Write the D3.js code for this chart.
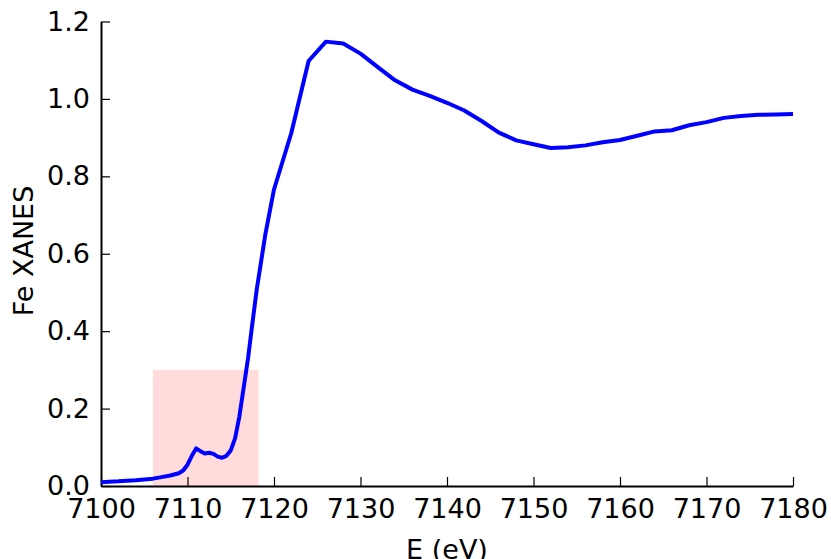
<!DOCTYPE html>
<html><head><meta charset="utf-8">
<script src="https://cdn.jsdelivr.net/npm/d3@7"></script>
<style>body{margin:0;background:#fff}svg{display:block}text{font-family:"DejaVu Sans",sans-serif}</style>
</head><body>
<svg id="c" width="831" height="559"></svg>
<script>
const energy = [7100,7102,7104,7106,7107,7108,7109,7109.5,7110,7110.5,7111,7111.5,7112,7112.5,7113,7113.5,7114,7114.5,7115,7115.5,7116,7116.5,7117,7117.5,7118,7119,7120,7122,7124,7126,7128,7130,7132,7134,7136,7138,7140,7142,7144,7146,7148,7150,7152,7154,7156,7158,7160,7162,7164,7166,7168,7170,7172,7174,7176,7178,7180];
const xanes = [0.010,0.012,0.015,0.019,0.023,0.027,0.033,0.040,0.055,0.078,0.097,0.090,0.084,0.086,0.083,0.076,0.073,0.078,0.092,0.123,0.180,0.255,0.330,0.420,0.507,0.650,0.766,0.912,1.098,1.148,1.143,1.117,1.082,1.048,1.024,1.008,0.990,0.970,0.943,0.913,0.893,0.883,0.873,0.875,0.880,0.888,0.894,0.905,0.916,0.919,0.932,0.940,0.951,0.956,0.959,0.960,0.961];
const xTicks = [7100,7110,7120,7130,7140,7150,7160,7170,7180];
const yTicks = [0.0,0.2,0.4,0.6,0.8,1.0,1.2];
const region = {x0:7106, x1:7118.2, y0:0, y1:0.3};

const svg = d3.select("#c");
const x = d3.scaleLinear().domain([7100,7180]).range([101,793]);
const y = d3.scaleLinear().domain([0,1.2]).range([486,21.5]);

svg.append("rect")
  .attr("x", x(region.x0)).attr("y", y(region.y1))
  .attr("width", x(region.x1)-x(region.x0)).attr("height", y(region.y0)-y(region.y1))
  .attr("fill","rgb(255,0,0)").attr("fill-opacity",0.14);

const xAxis = d3.axisBottom(x).tickValues(xTicks).tickSizeInner(-9).tickSizeOuter(0).tickPadding(13).tickFormat(d3.format("d"));
const gx = svg.append("g").attr("transform",`translate(0,${y(0)})`).call(xAxis);
const yAxis = d3.axisLeft(y).tickValues(yTicks).tickSizeInner(-9).tickSizeOuter(0).tickPadding(11).tickFormat(d3.format(".1f"));
const gy = svg.append("g").attr("transform",`translate(${x(7100)},0)`).call(yAxis);
[gx,gy].forEach(g=>{
  g.select(".domain").attr("stroke","#000").attr("stroke-width",2);
  g.selectAll(".tick line").attr("stroke","#000").attr("stroke-width",1.2);
  g.selectAll(".tick text").attr("font-size",27).attr("fill","#000").attr("font-family","DejaVu Sans");
});
gx.selectAll(".tick text").attr("dy","0.71em");

svg.append("path")
  .datum(energy.map((e,i)=>[e,xanes[i]]))
  .attr("fill","none").attr("stroke","#0000ff").attr("stroke-width",4)
  .attr("stroke-linejoin","round")
  .attr("d", d3.line().x(d=>x(d[0])).y(d=>y(d[1])));

svg.append("text").attr("x",447).attr("y",559).attr("text-anchor","middle")
  .attr("font-size",27).text("E (eV)");
svg.append("text").attr("transform","translate(33,251) rotate(-90)").attr("text-anchor","middle")
  .attr("font-size",27).text("Fe XANES");
</script>
</body></html>
